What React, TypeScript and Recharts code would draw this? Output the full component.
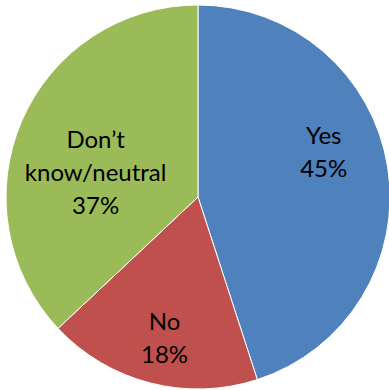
import { PieChart, Pie, Cell } from "recharts";

const categories = ["Yes", "No", "Don\u2019t know/neutral"];
const shares = [45, 18, 37];
const colors = ["#4F81BD", "#C0504D", "#9BBB59"];

// label text lines per slice (Excel wraps the long one)
const labelLines = [["Yes"], ["No"], ["Don\u2019t", "know/neutral"]];

// small nudges from the mid-angle spot, like Excel's best-fit placement
const labelNudge: Record<string, [number, number]> = {
  Yes: [-7, -25],
  No: [0, 9],
  "Don\u2019t know/neutral": [21, 27],
};

const data = categories.map((name, i) => ({ name, value: shares[i] }));

const RAD = Math.PI / 180;

function renderLabel(props: any) {
  const { cx, cy, midAngle, outerRadius, index, name, value } = props;
  const r = outerRadius * 0.7;
  const [dx, dy] = labelNudge[name] ?? [0, 0];
  const x = cx + r * Math.cos(-midAngle * RAD) + dx;
  const y = cy + r * Math.sin(-midAngle * RAD) + dy;
  const lines = [...labelLines[index], `${value}%`];
  const lh = 33;
  const top = y - ((lines.length - 1) * lh) / 2;
  return (
    <text
      x={x}
      y={top}
      textAnchor="middle"
      dominantBaseline="central"
      fill="#000"
      fontSize={24}
      fontFamily="Lato, 'Open Sans', sans-serif"
    >
      {lines.map((l, i) => (
        <tspan key={i} x={x} dy={i === 0 ? 0 : lh}>
          {l}
        </tspan>
      ))}
    </text>
  );
}

export default function App() {
  return (
    <div style={{ position: "fixed", left: 0, top: 0, width: 389, height: 390, background: "#fff" }}>
      <PieChart width={389} height={390} margin={{ top: 0, right: 0, bottom: 0, left: 0 }}>
        <Pie
          data={data}
          dataKey="value"
          nameKey="name"
          cx={198}
          cy={197}
          outerRadius={192}
          startAngle={90}
          endAngle={-270}
          stroke="#fff"
          strokeWidth={1}
          label={renderLabel}
          labelLine={false}
          isAnimationActive={false}
        >
          {data.map((d, i) => (
            <Cell key={d.name} fill={colors[i]} />
          ))}
        </Pie>
      </PieChart>
    </div>
  );
}
